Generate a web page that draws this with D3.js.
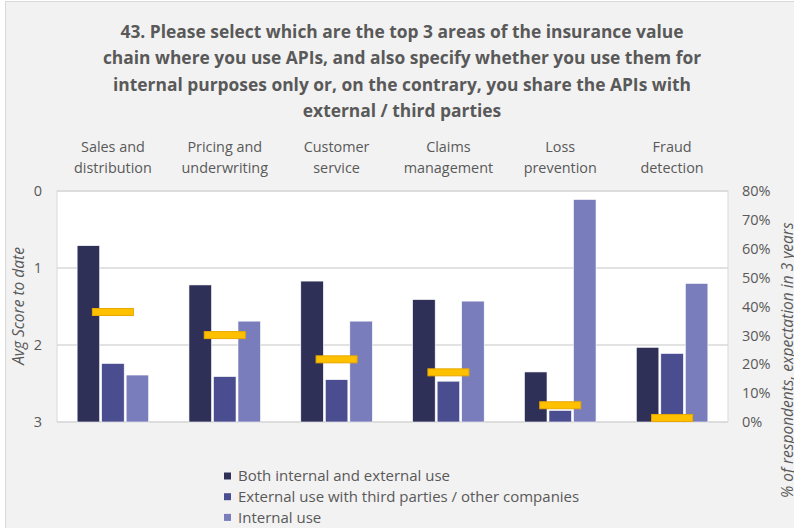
<!DOCTYPE html>
<html>
<head>
<meta charset="utf-8">
<script src="https://cdn.jsdelivr.net/npm/d3@7"></script>
<style>
  body { margin: 0; background: #fff; }
  svg text { font-family: 'Open Sans', 'Noto Sans', sans-serif; fill: #595959; }
</style>
</head>
<body>
<svg id="chart" width="794" height="528"></svg>
<script>
const titleLines = [
  '43. Please select which are the top 3 areas of the insurance value',
  'chain where you use APIs, and also specify whether you use them for',
  'internal purposes only or, on the contrary, you share the APIs with',
  'external / third parties'
]
const categories = [
  ['Sales and', 'distribution'],
  ['Pricing and', 'underwriting'],
  ['Customer', 'service'],
  ['Claims', 'management'],
  ['Loss', 'prevention'],
  ['Fraud', 'detection']
]
const seriesNames = [
  'Both internal and external use',
  'External use with third parties / other companies',
  'Internal use'
]
const seriesColors = ['#2f3058', '#4a4d90', '#7a7dbc']
// avg score to date (left axis, 0 on top)
const bothUse = [0.71, 1.22, 1.17, 1.41, 2.35, 2.03]
const externalUse = [2.24, 2.41, 2.45, 2.47, 2.85, 2.11]
const internalUse = [2.39, 1.69, 1.69, 1.43, 0.11, 1.20]
// % of respondents, expectation in 3 years (right axis)
const expectation = [0.381, 0.301, 0.217, 0.172, 0.058, 0.014]
const leftTicks = [0, 1, 2, 3]
const rightTicks = [0, 0.1, 0.2, 0.3, 0.4, 0.5, 0.6, 0.7, 0.8]

const series = [bothUse, externalUse, internalUse]
const svg = d3.select('#chart')

/* chart area background */
svg.append('rect')
  .attr('x', 5.5).attr('y', 1.5).attr('width', 800).attr('height', 540)
  .attr('fill', '#f2f2f2').attr('stroke', '#d9d9d9')

const plot = { left: 57, right: 728, top: 191, bottom: 422 }

const x = d3.scaleBand()
  .domain(d3.range(categories.length))
  .range([plot.left, plot.right])
  .paddingInner(0.36).paddingOuter(0.18)
const xs = d3.scaleBand()
  .domain(d3.range(series.length))
  .range([0, x.bandwidth()])
  .paddingInner(0.08)
const yLeft = d3.scaleLinear().domain([0, 3]).range([plot.top, plot.bottom])
const yRight = d3.scaleLinear().domain([0, 0.8]).range([plot.bottom, plot.top])

/* title */
svg.append('g').selectAll('text')
  .data(titleLines).enter().append('text')
  .attr('x', 402)
  .attr('y', (d, i) => 38 + i * 26.3)
  .attr('text-anchor', 'middle')
  .style('font-size', '17.4px').style('font-weight', 'bold')
  .text(d => d)

/* category labels on top */
const catg = svg.append('g').selectAll('text')
  .data(categories).enter().append('text')
  .attr('x', (d, i) => x(i) + x.bandwidth() / 2)
  .attr('text-anchor', 'middle')
  .style('font-size', '14.4px')
catg.selectAll('tspan')
  .data(d => d).enter().append('tspan')
  .attr('x', function () { return d3.select(this.parentNode).attr('x') })
  .attr('y', (d, i) => 152 + i * 21)
  .text(d => d)

/* plot area */
svg.append('rect')
  .attr('x', plot.left).attr('y', plot.top)
  .attr('width', plot.right - plot.left).attr('height', plot.bottom - plot.top)
  .attr('fill', '#fff').attr('stroke', '#d9d9d9')
svg.append('g').selectAll('line')
  .data(leftTicks).enter().append('line')
  .attr('x1', plot.left).attr('x2', plot.right)
  .attr('y1', d => yLeft(d)).attr('y2', d => yLeft(d))
  .attr('stroke', '#d9d9d9').attr('stroke-width', 1.3)

/* bars, grown up from the bottom of the reversed score axis */
series.forEach((vals, s) => {
  svg.append('g').selectAll('rect')
    .data(vals).enter().append('rect')
    .attr('x', (d, i) => x(i) + xs(s))
    .attr('width', xs.bandwidth())
    .attr('y', d => yLeft(d))
    .attr('height', d => yLeft(3) - yLeft(d))
    .attr('fill', seriesColors[s])
    .attr('stroke', '#fff').attr('stroke-width', 0.6)
})

/* expectation markers */
svg.append('g').selectAll('rect')
  .data(expectation).enter().append('rect')
  .attr('x', (d, i) => x(i) + x.bandwidth() / 2 - 20.5)
  .attr('width', 41)
  .attr('y', d => yRight(d) - 3.5)
  .attr('height', 7)
  .attr('fill', '#ffc000').attr('stroke', '#e8a800').attr('stroke-width', 1)

/* left axis */
const la = svg.append('g').attr('transform', `translate(${plot.left},0)`)
  .call(d3.axisLeft(yLeft).tickValues(leftTicks).tickSize(0).tickPadding(15)
    .tickFormat(d3.format('d')))
la.select('.domain').remove()
la.selectAll('text').style('font-size', '14.5px').attr('fill', '#595959')
  .style('font-family', "'Open Sans', sans-serif")

/* right axis */
const ra = svg.append('g').attr('transform', `translate(${plot.right},0)`)
  .call(d3.axisRight(yRight).tickValues(rightTicks).tickSize(0).tickPadding(14)
    .tickFormat(d3.format('.0%')))
ra.select('.domain').remove()
ra.selectAll('text').style('font-size', '14.5px').attr('fill', '#595959')
  .style('font-family', "'Open Sans', sans-serif")

/* axis titles */
svg.append('text')
  .attr('transform', 'translate(24,306) rotate(-90)')
  .attr('text-anchor', 'middle')
  .style('font-size', '15.5px').style('font-style', 'italic')
  .text('Avg Score to date')
svg.append('text')
  .attr('transform', 'translate(793,498) rotate(-90)')
  .attr('text-anchor', 'start')
  .style('font-size', '15.5px').style('font-style', 'italic')
  .text('% of respondents, expectation in 3 years')

/* legend */
const lg = svg.append('g').selectAll('g')
  .data(seriesNames).enter().append('g')
  .attr('transform', (d, i) => `translate(224,${476 + i * 20.7})`)
lg.append('rect')
  .attr('x', 0).attr('y', -3.5).attr('width', 7).attr('height', 7)
  .attr('fill', (d, i) => seriesColors[i])
lg.append('text')
  .attr('x', 14).attr('dy', '0.35em')
  .style('font-size', '15px').attr('fill', '#404040')
  .text(d => d)
</script>
</body>
</html>
